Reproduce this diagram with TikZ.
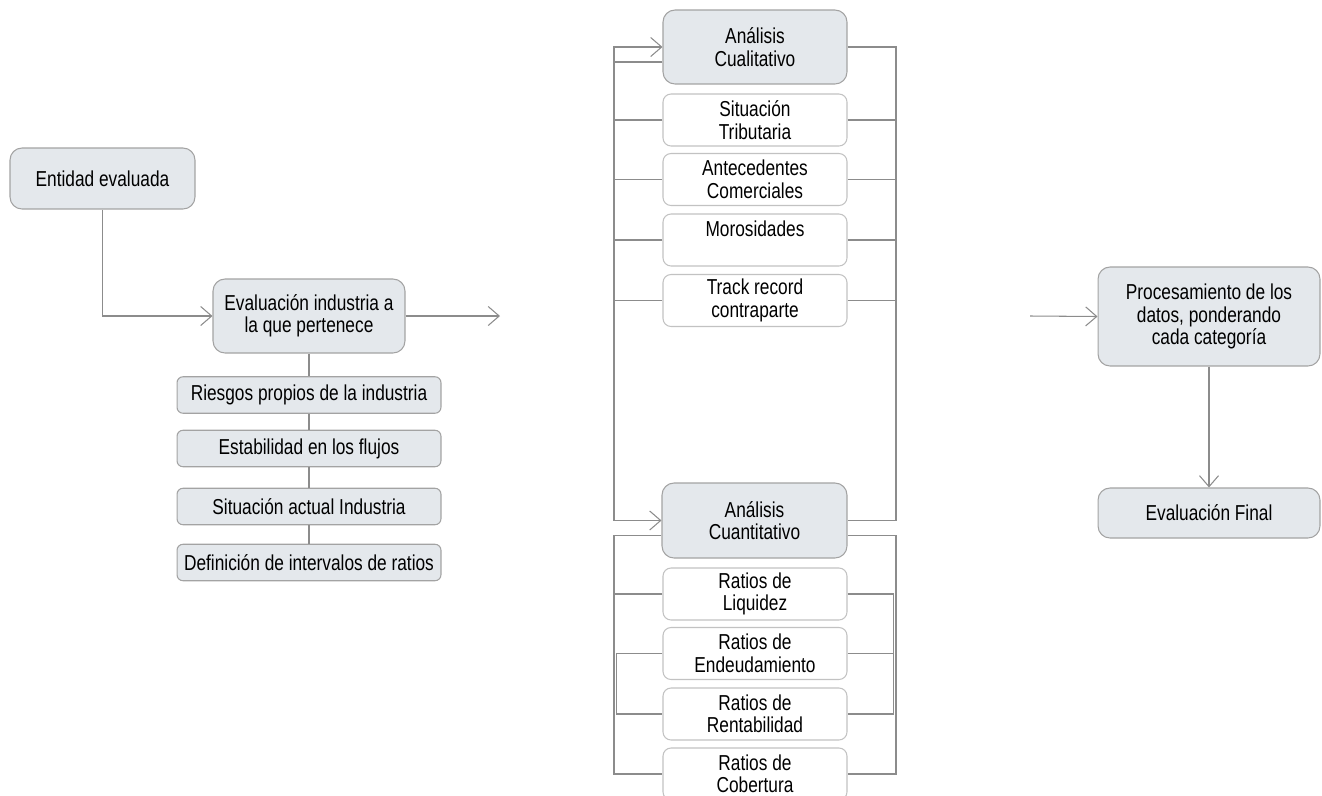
\documentclass[tikz,border=0pt]{standalone}
\usepackage{fontspec}
\setmainfont{Liberation Sans}[FakeStretch = 0.8]
\usetikzlibrary{arrows.meta, calc}

\definecolor{boxfill}{HTML}{E4E8EC}
\definecolor{boxline}{HTML}{A3A3A3}
\definecolor{itemline}{HTML}{C2C2C2}
\definecolor{linkgray}{HTML}{8C8C8C}

\tikzset{
	mainbox/.style = {draw = boxline, fill = boxfill, line width = 0.6pt, rounded corners = 0.24cm, align = center, inner sep = 0pt},
	sidebox/.style = {draw = boxline, fill = boxfill, line width = 0.6pt, rounded corners = 0.12cm, align = center, inner sep = 0pt, minimum width = 5.28cm, minimum height = 0.73cm},
	itembox/.style = {draw = itemline, fill = white, line width = 0.6pt, rounded corners = 0.16cm, align = center, inner sep = 0pt, minimum width = 3.68cm, minimum height = 1.04cm},
	link/.style = {draw = linkgray, line width = 0.6pt}
}

\begin{document}
\begin{tikzpicture}[x = 0.02cm, y = -0.02cm, > = {Straight Barb[length = 2.2mm, width = 3.8mm]}, font = \fontsize{12.3}{12.8}\selectfont]

	\clip (0, 0) rectangle (1322, 795);

	% Entity and industry
	
	\node [mainbox, minimum width = 3.7cm, minimum height = 1.22cm] (ent) at (102.5, 178.5) {Entidad evaluada};
	\node [mainbox, minimum width = 3.84cm, minimum height = 1.48cm] (ind) at (309, 316) {Evaluación industria a\\la que pertenece};
	\coordinate (out) at (500, 316);
	
	\draw [link, ->] (ent.south) |- (ind.west);
	\draw [link, ->] (ind.east) -- (out);
	
	% Industry items
	
	\node [sidebox] (rie) at (309, 395) {Riesgos propios de la industria};
	\node [sidebox] (est) at (309, 448.5) {Estabilidad en los flujos};
	\node [sidebox] (act) at (309, 506.5) {Situación actual Industria};
	\node [sidebox] (def) at (309, 562.5) {Definición de intervalos de ratios};
	
	\draw [link] (ind) -- (rie) -- (est) -- (act) -- (def);
	
	% Qualitative analysis
	
	\node [mainbox, minimum width = 3.68cm, minimum height = 1.48cm] (cual) at (755, 47) {Análisis\\Cualitativo};
	\node [itembox] (tri) at (755, 120) {Situación\\Tributaria};
	\node [itembox] (com) at (755, 179.5) {Antecedentes\\Comerciales};
	\node [itembox] (mor) at (755, 240) {Morosidades\\~};
	\node [itembox] (tra) at (755, 300.5) {Track record\\contraparte};
	
	% Quantitative analysis
	
	\node [mainbox, minimum width = 3.7cm, minimum height = 1.5cm] (cuan) at (754.5, 520.5) {Análisis\\Cuantitativo};
	\node [itembox] (liq) at (755, 594) {Ratios de\\Liquidez};
	\node [itembox] (deu) at (755, 653.5) {Ratios de\\Endeudamiento};
	\node [itembox] (ren) at (755, 714) {Ratios de\\Rentabilidad};
	\node [itembox] (cob) at (755, 774) {Ratios de\\Cobertura};
	
	% Side buses
	
	\coordinate (lbus) at (614, 0);
	\coordinate (lbin) at (616.5, 0);
	\coordinate (rbus) at (896, 0);
	\coordinate (rbin) at (893.5, 0);
	\coordinate (cual lo) at ($(cual.west) + (0, 15)$);
	\coordinate (cuan lo) at ($(cuan.west) + (0, 15)$);
	\coordinate (cuan ro) at ($(cuan.east) + (0, 15)$);
	
	\draw [link, <->] (cual.west) -- (cual.west -| lbus) -- (cuan.west -| lbus) -- (cuan.west);
	\draw [link] (cual.east) -- (cual.east -| rbus) -- (cuan.east -| rbus) -- (cuan.east);
	\draw [link] (cual lo) -- (cual lo -| lbus);
	\foreach \n in {tri, com, mor, tra} {
		\draw [link] (\n.west) -- (\n.west -| lbus);
		\draw [link] (\n.east) -- (\n.east -| rbus);
	}
	
	\draw [link] (cuan lo) -- (cuan lo -| lbus) -- (cob.west -| lbus) -- (cob.west);
	\draw [link] (cuan ro) -- (cuan ro -| rbus) -- (cob.east -| rbus) -- (cob.east);
	\draw [link] (liq.west) -- (liq.west -| lbus);
	\draw [link] (deu.west) -- (deu.west -| lbin) -- (ren.west -| lbin) -- (ren.west);
	\draw [link] (liq.east) -- (liq.east -| rbin) -- (ren.east -| rbin) -- (ren.east);
	\draw [link] (deu.east) -- (deu.east -| rbin);
	
	% Processing and result
	
	\coordinate (in) at (1030, 316);
	\node [mainbox, minimum width = 4.44cm, minimum height = 1.98cm] (pro) at (1209, 316.5) {Procesamiento de los\\datos, ponderando\\cada categoría};
	\node [mainbox, minimum width = 4.44cm, minimum height = 1cm] (fin) at (1209, 513) {Evaluación Final};
	
	\draw [link, ->] (in) -- (pro.west);
	\draw [link, ->] (pro) -- (fin);

\end{tikzpicture}
\end{document}
